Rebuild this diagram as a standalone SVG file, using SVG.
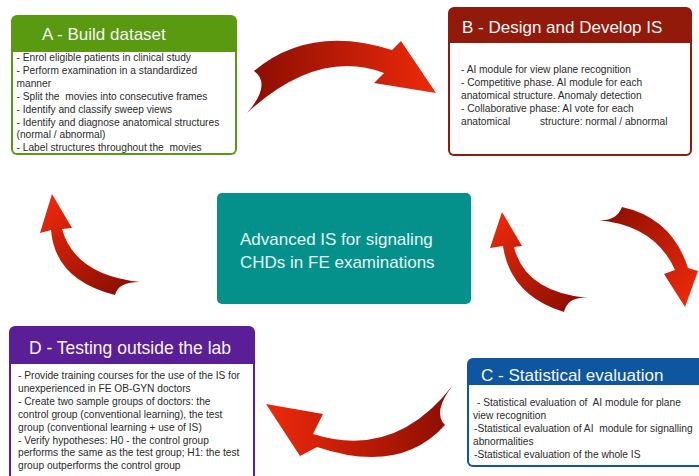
<svg xmlns="http://www.w3.org/2000/svg" width="699" height="476" viewBox="0 0 699 476">
  <style>
    .title { font-family: "Liberation Sans", Arial, sans-serif; font-size: 17px; fill: #f6f6f6; }
    .body { font-family: "Liberation Sans", Arial, sans-serif; font-size: 10.2px; fill: #2b2b2b; white-space: pre; }
    .center { font-family: "Liberation Sans", Arial, sans-serif; font-size: 17px; fill: #e4f4f2; }
  </style>
  <defs>
    <linearGradient id="g1" gradientUnits="userSpaceOnUse" x1="250" y1="80" x2="436" y2="80">
      <stop offset="0" stop-color="#8a0e02"/><stop offset="1" stop-color="#ee290b"/>
    </linearGradient>
    <linearGradient id="g2" gradientUnits="userSpaceOnUse" x1="600" y1="212" x2="686" y2="305">
      <stop offset="0" stop-color="#8a0e02"/><stop offset="1" stop-color="#ee290b"/>
    </linearGradient>
    <linearGradient id="g3" gradientUnits="userSpaceOnUse" x1="580" y1="305" x2="502" y2="212">
      <stop offset="0" stop-color="#8a0e02"/><stop offset="1" stop-color="#ee290b"/>
    </linearGradient>
    <linearGradient id="g4" gradientUnits="userSpaceOnUse" x1="453" y1="420" x2="266" y2="420">
      <stop offset="0" stop-color="#8a0e02"/><stop offset="1" stop-color="#ee290b"/>
    </linearGradient>
    <linearGradient id="g5" gradientUnits="userSpaceOnUse" x1="125" y1="292" x2="52" y2="196">
      <stop offset="0" stop-color="#8a0e02"/><stop offset="1" stop-color="#ee290b"/>
    </linearGradient>
  </defs>

  <rect width="699" height="476" fill="#ffffff"/>

  <!-- curved block arrows -->
  <g id="connectors">
    <path fill="url(#g1)" d="M254 71 Q310 24 392 50 L401 41 L436 93 L374 83 L384 73 Q318 48 247 113 Q272 84 254 71 Z"/>
    <path fill="url(#g2)" d="M622 207 Q672 218 688 268 L698 271 L685 307 L664 274 L675 270 Q655 225 597 220 Q616 222 622 207 Z"/>
    <path fill="url(#g3)" d="M502 212 L490 248 L503 246 Q510 295 564 312 Q568 296 588 298 Q525 292 514 247 L522 246 Z"/>
    <path fill="url(#g4)" d="M266 404 L323 414 L313 434 Q395 460 453 385 Q432 412 445 425 Q400 475 317 447 L300 456 Z"/>
    <path fill="url(#g5)" d="M52 194 L72 228 L62 229 Q75 275 140 282 Q118 282 115 295 Q55 280 51 230 L40 233 Z"/>
  </g>

  <!-- A - Build dataset -->
  <g id="node-a">
    <rect x="11" y="15" width="226" height="140" rx="6" fill="#5a9a10"/>
    <path d="M13 52 H235 V149 Q235 153 231 153 H17 Q13 153 13 149 Z" fill="#ffffff"/>
    <text class="title" x="42" y="40">A - Build dataset</text>
    <text class="body" x="16.5" y="61">- Enrol eligible patients in clinical study</text>
    <text class="body" x="16.5" y="73.9">- Perform examination in a standardized</text>
    <text class="body" x="16.5" y="86.8">manner</text>
    <text class="body" x="16.5" y="99.7">- Split the  movies into consecutive frames</text>
    <text class="body" x="16.5" y="112.6">- Identify and classify sweep views</text>
    <text class="body" x="16.5" y="125.5">- Identify and diagnose anatomical structures</text>
    <text class="body" x="16.5" y="138.4">(normal / abnormal)</text>
    <text class="body" x="16.5" y="151.3">- Label structures throughout the  movies</text>
  </g>

  <!-- B - Design and Develop IS -->
  <g id="node-b">
    <rect x="448" y="7" width="244" height="149" rx="6" fill="#921a0b"/>
    <path d="M450 43 H690 V150 Q690 154 686 154 H454 Q450 154 450 150 Z" fill="#ffffff"/>
    <text class="title" x="462" y="33">B - Design and Develop IS</text>
    <text class="body" x="461" y="73">- AI module for view plane recognition</text>
    <text class="body" x="461" y="86">- Competitive phase. AI module for each</text>
    <text class="body" x="461" y="99">anatomical structure. Anomaly detection</text>
    <text class="body" x="461" y="111.7">- Collaborative phase: AI vote for each</text>
    <text class="body" x="461" y="124.5">anatomical</text>
    <text class="body" x="540" y="124.5">structure: normal / abnormal</text>
  </g>

  <!-- central box -->
  <g id="node-center">
    <rect x="217" y="193" width="254" height="111" rx="5" fill="#04908b"/>
    <text class="center" x="240" y="245">Advanced IS for signaling</text>
    <text class="center" x="240" y="268">CHDs in FE examinations</text>
  </g>

  <!-- C - Statistical evaluation -->
  <g id="node-c">
    <rect x="467" y="358" width="240" height="109" rx="6" fill="#0e56a0"/>
    <path d="M469 385 H707 V465 H473 Q469 465 469 461 Z" fill="#ffffff"/>
    <text class="title" x="481" y="381">C - Statistical evaluation</text>
    <text class="body" x="477" y="406">- Statistical evaluation of  AI module for plane</text>
    <text class="body" x="473" y="419">view recognition</text>
    <text class="body" x="474" y="432">-Statistical evaluation of AI  module for signalling</text>
    <text class="body" x="473" y="445">abnormalities</text>
    <text class="body" x="474" y="458">-Statistical evaluation of the whole IS</text>
  </g>

  <!-- D - Testing outside the lab -->
  <g id="node-d">
    <rect x="9" y="326" width="246" height="160" rx="6" fill="#5a1e96"/>
    <rect x="11" y="364" width="242" height="122" fill="#ffffff"/>
    <text class="title" x="29" y="354" style="font-size:17.5px">D - Testing outside the lab</text>
    <text class="body" x="18" y="379">- Provide training courses for the use of the IS for</text>
    <text class="body" x="18" y="391.9">unexperienced in FE OB-GYN doctors</text>
    <text class="body" x="18" y="404.8">- Create two sample groups of doctors: the</text>
    <text class="body" x="18" y="417.7">control group (conventional learning), the test</text>
    <text class="body" x="18" y="430.6">group (conventional learning + use of IS)</text>
    <text class="body" x="18" y="443.5">- Verify hypotheses: H0 - the control group</text>
    <text class="body" x="18" y="456.4">performs the same as the test group; H1: the test</text>
    <text class="body" x="18" y="469.3">group outperforms the control group</text>
  </g>
</svg>
